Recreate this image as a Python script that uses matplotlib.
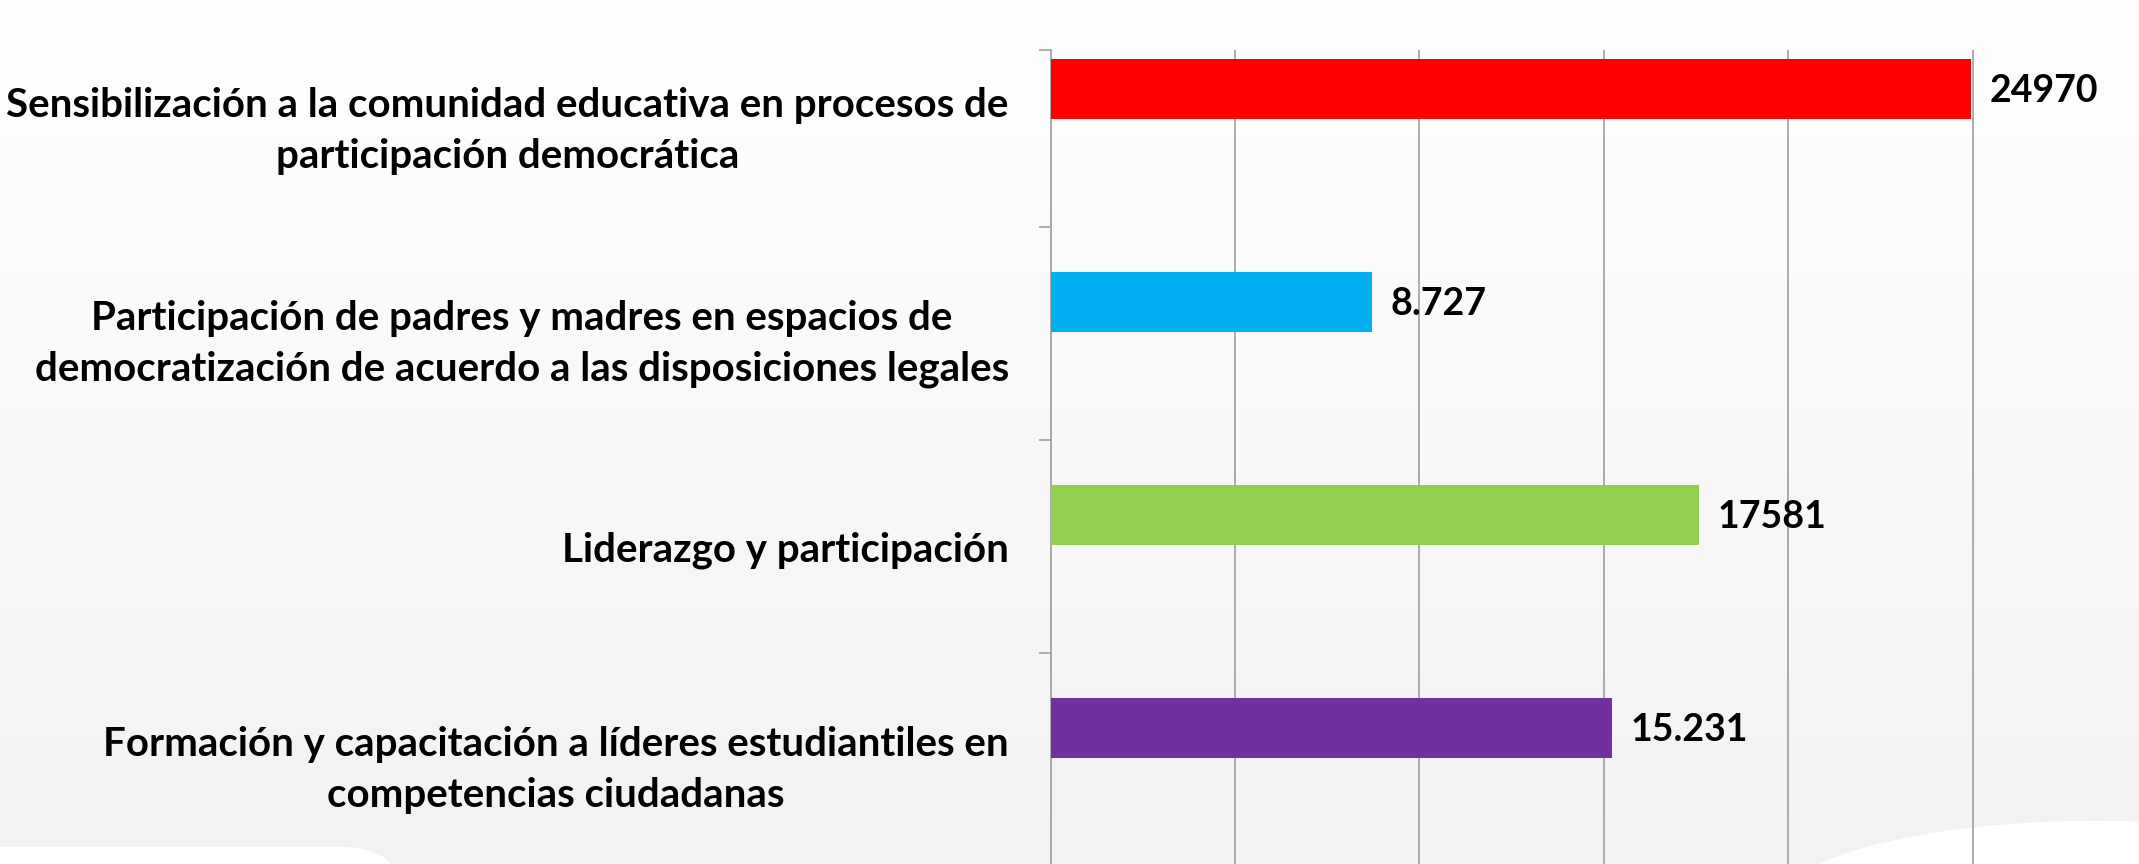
import numpy as np
import matplotlib.pyplot as plt
from matplotlib.patches import FancyBboxPatch, Ellipse

categories = [
    "Sensibilización a la comunidad educativa en procesos de\nparticipación democrática",
    "Participación de padres y madres en espacios de\ndemocratización de acuerdo a las disposiciones legales",
    "Liderazgo y participación",
    "Formación y capacitación a líderes estudiantiles en\ncompetencias ciudadanas",
]
values = [24970, 8727, 17581, 15231]
value_labels = ["24970", "8.727", "17581", "15.231"]
colors = ["#FF0000", "#00B0F0", "#92D050", "#7030A0"]

plt.rcParams['font.family'] = ['Lato', 'DejaVu Sans']

W, H = 2139, 864
fig = plt.figure(figsize=(W / 100, H / 100), dpi=100)

# background: light gradient with white swooshes
bg = fig.add_axes([0, 0, 1, 1], zorder=-10)
grad = np.linspace(1.0, 0.95, 256).reshape(-1, 1)
bg.imshow(np.dstack([grad, grad, grad]), aspect='auto', extent=[0, 1, 0, 1], origin='upper')
bg.add_patch(FancyBboxPatch((-0.05, -0.1), 0.24, 0.12, boxstyle="round,pad=0,rounding_size=0.03",
                            fc='white', ec='none', mutation_aspect=2.5))
bg.add_patch(Ellipse((0.98, -0.05), 0.3, 0.2, fc='white', ec='none'))
bg.set_xlim(0, 1)
bg.set_ylim(0, 1)
bg.axis('off')

# axes placed in pixel terms: spine at x=1050, top at y=50, extends past bottom/right
left = 1050.5 / W
right = (1050.5 + 6 * 184.4) / W
top = 1 - 50 / H
bottom = -0.02
ax = fig.add_axes([left, bottom, right - left, top - bottom])
ax.patch.set_alpha(0)

y = np.arange(len(categories))
bar_off = -0.15
ax.barh(y + bar_off, values, height=0.28, color=colors, zorder=3)

for yi, v, lab in zip(y, values, value_labels):
    ax.text(v + 500, yi + bar_off + 0.01, lab, va='center', ha='left',
            fontsize=27, fontweight='bold', color='black')

ax.set_xlim(0, 30000)
ylo = -0.333
yhi = ylo + (top - bottom) * H / 213.0
ax.set_ylim(yhi, ylo)

ax.set_xticks(np.arange(0, 30001, 5000))
ax.set_xticklabels([])
ax.tick_params(axis='x', length=0)
ax.grid(axis='x', color='#a6a6a6', linewidth=1.3, zorder=0)

ax.set_yticks(y)
ax.set_yticklabels(categories, fontsize=29, fontweight='bold', multialignment='center',
                   linespacing=1.45)
ax.tick_params(axis='y', length=0, pad=30)
ax.set_yticks(list(y[:-1] + 0.5) + [ylo], minor=True)
ax.tick_params(axis='y', which='minor', length=9, width=1.3, color='#a6a6a6')

for s in ['top', 'right', 'bottom']:
    ax.spines[s].set_visible(False)
ax.spines['left'].set_color('#a6a6a6')
ax.spines['left'].set_linewidth(1.3)

fig.savefig('out.png', dpi=100)
